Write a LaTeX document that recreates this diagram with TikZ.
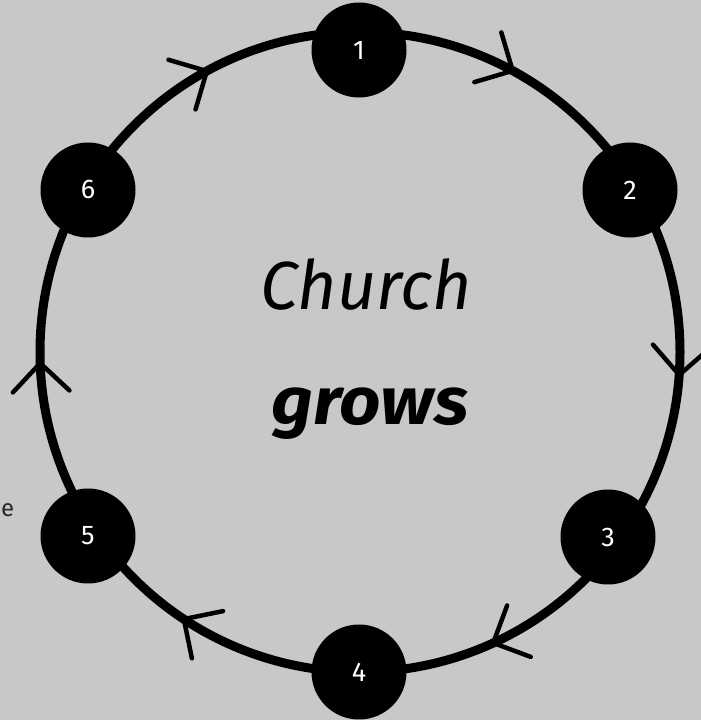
\documentclass[tikz,border=0pt]{standalone}
\usepackage{fontspec}
\usetikzlibrary{calc}
\setmainfont{Fira Sans}
\definecolor{bgconcrete}{RGB}{200,200,200}
\definecolor{etext}{RGB}{40,40,40}
\tikzset{
  stepdot/.style={circle, fill=black, minimum size=95pt, inner sep=0pt, text=white, font=\fontsize{27}{27}\selectfont},
  ring/.style={line width=9pt, draw=black},
  chev/.style={line width=4.5pt, draw=black, line cap=round},
  pics/chevron/.style={code={
    \draw[chev] (0,0) -- ++(#1+45:40);
    \draw[chev] (0,0) -- ++(#1+135:40);
  }}
}
\begin{document}
\begin{tikzpicture}[x=1pt,y=1pt]
\fill[bgconcrete] (0,0) rectangle (701,720);
\useasboundingbox (0,0) rectangle (701,720);
\coordinate (C) at (360,368);
\draw[ring] (C) circle (320);
\foreach \a in {61.5,-4.1,-65.4,236.6,182,118.6}{
  \pic at ($(C)+(\a:320)$) {chevron=\a};
}
\node[stepdot] (n1) at (359,670) {1};
\node[stepdot] (n2) at (630,530) {2};
\node[stepdot] (n3) at (608,183) {3};
\node[stepdot] (n4) at (359,48) {4};
\node[stepdot] (n5) at (88,184) {5};
\node[stepdot] (n6) at (88,530) {6};
\node[anchor=base, font=\fontsize{68}{68}\selectfont\itshape] (t1) at (366,410) {Church};
\node[anchor=base, xscale=1.08, transform shape, font=\fontsize{67}{67}\selectfont\bfseries\itshape] (t2) at (370,295) {grows};
\node[anchor=base west, text=etext, inner sep=0pt, font=\fontsize{24}{24}\selectfont] (te) at (1,203) {e};
\end{tikzpicture}
\end{document}
